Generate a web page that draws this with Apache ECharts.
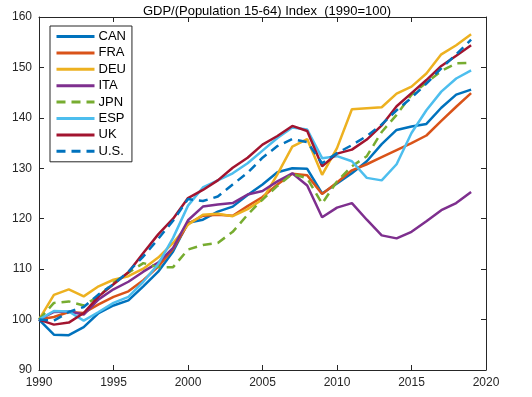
<!DOCTYPE html>
<html>
<head>
<meta charset="utf-8">
<script src="https://cdn.jsdelivr.net/npm/echarts@6/dist/echarts.min.js"></script>
<style>
  html, body { margin: 0; padding: 0; background: #fff; }
  #chart { width: 532px; height: 397px; }
</style>
</head>
<body>
<div id="chart"></div>
<script>
// Years 1990..2019
const years = [];
for (let y = 1990; y <= 2019; y++) years.push(y);

// Index values (1990 = 100)
const CAN = [100, 97.0, 96.9, 98.5, 101.3, 102.8, 103.8, 106.6, 109.5, 113.5, 119.2, 119.8, 121.4, 122.4, 124.7, 126.8, 129.2, 130.0, 129.9, 125.0, 127.0, 129.0, 131.4, 134.8, 137.6, 138.3, 138.8, 142.0, 144.6, 145.6];
const FRA = [100, 100.5, 101.5, 101.3, 103.0, 104.5, 105.6, 107.8, 110.5, 114.0, 119.0, 120.6, 120.8, 120.6, 122.5, 124.3, 126.8, 128.9, 128.6, 124.9, 127.2, 129.6, 130.8, 132.2, 133.6, 135.0, 136.5, 139.4, 142.2, 144.9];
const DEU = [100, 104.9, 106.0, 104.6, 106.6, 107.9, 108.6, 110.1, 112.3, 115.2, 118.8, 120.8, 121.0, 120.5, 121.9, 123.8, 128.8, 134.3, 135.8, 128.7, 134.0, 141.7, 141.9, 142.1, 144.8, 146.2, 148.8, 152.6, 154.4, 156.6];
const ITA = [100, 101.5, 101.6, 101.0, 104.0, 106.0, 107.5, 109.5, 111.3, 114.2, 119.7, 122.4, 122.8, 123.1, 124.8, 125.5, 127.4, 129.0, 126.6, 120.3, 122.2, 123.1, 119.8, 116.7, 116.1, 117.4, 119.5, 121.7, 123.1, 125.3];
const JPN = [100, 103.3, 103.6, 102.8, 104.6, 107.3, 109.3, 111.2, 110.4, 110.4, 113.9, 114.8, 115.2, 117.4, 120.8, 123.8, 126.5, 128.9, 128.0, 123.0, 127.4, 130.4, 132.4, 137.2, 140.6, 144.6, 147.0, 149.3, 150.8, 150.9];
const ESP = [100, 101.7, 101.6, 99.8, 101.5, 103.3, 104.5, 107.5, 111.0, 116.2, 122.6, 126.2, 127.6, 129.0, 131.0, 133.5, 136.0, 138.1, 137.7, 132.0, 132.4, 131.4, 128.1, 127.6, 130.8, 137.0, 141.5, 145.2, 147.8, 149.4];
const UK  = [100, 99.0, 99.4, 101.3, 104.6, 107.0, 109.4, 113.2, 116.9, 120.0, 124.1, 125.7, 127.6, 130.1, 132.1, 134.7, 136.4, 138.4, 137.4, 130.4, 132.9, 133.7, 135.7, 138.5, 142.3, 144.9, 147.5, 150.3, 152.3, 154.4];
const US  = [100, 99.8, 101.5, 102.5, 105.0, 107.0, 109.5, 112.5, 116.0, 119.6, 123.9, 123.5, 124.4, 126.8, 129.1, 132.1, 134.4, 135.8, 135.2, 131.0, 133.0, 134.6, 136.4, 138.7, 141.5, 144.0, 146.8, 149.8, 152.6, 155.5];

const seriesDefs = [
  { name: 'CAN',  data: CAN, color: '#0072BD', dashed: false },
  { name: 'FRA',  data: FRA, color: '#D95319', dashed: false },
  { name: 'DEU',  data: DEU, color: '#EDB120', dashed: false },
  { name: 'ITA',  data: ITA, color: '#7E2F8E', dashed: false },
  { name: 'JPN',  data: JPN, color: '#77AC30', dashed: true },
  { name: 'ESP',  data: ESP, color: '#4DBEEE', dashed: false },
  { name: 'UK',   data: UK,  color: '#A2142F', dashed: false },
  { name: 'U.S.', data: US,  color: '#0072BD', dashed: true }
];

const axisColor = '#262626';
const fontFamily = 'Liberation Sans, Arial, sans-serif';

const chart = echarts.init(document.getElementById('chart'), null, { renderer: 'canvas' });

const baseX = {
  type: 'value', min: 1990, max: 2020, interval: 5,
  axisLine: { show: true, onZero: false, lineStyle: { color: axisColor, width: 1 } },
  axisTick: { show: true, inside: true, length: 5, lineStyle: { color: axisColor } },
  splitLine: { show: false }
};
const baseY = {
  type: 'value', min: 90, max: 160, interval: 10,
  axisLine: { show: true, onZero: false, lineStyle: { color: axisColor, width: 1 } },
  axisTick: { show: true, inside: true, length: 5, lineStyle: { color: axisColor } },
  splitLine: { show: false }
};

const option = {
  animation: false,
  backgroundColor: '#fff',
  title: {
    text: 'GDP/(Population 15-64) Index  (1990=100)',
    left: 262, top: 0, textAlign: 'center',
    textStyle: { fontFamily: fontFamily, fontSize: 13, fontWeight: 'normal', color: '#000' }
  },
  grid: { left: 39, right: 46, top: 17, bottom: 27 },
  legend: {
    orient: 'vertical',
    left: 50, top: 26,
    padding: [4, 6, 4, 5],
    itemWidth: 38, itemHeight: 12, itemGap: 3.4,
    borderColor: axisColor, borderWidth: 1,
    backgroundColor: '#fff',
    itemStyle: { opacity: 0 },
    lineStyle: { width: 3 },
    textStyle: { fontFamily: fontFamily, fontSize: 13, color: '#000', padding: [0, 0, 0, -1] },
    data: seriesDefs.map(s => s.name)
  },
  xAxis: [
    Object.assign({}, baseX, {
      position: 'bottom',
      axisLabel: { show: true, color: axisColor, fontFamily: fontFamily, fontSize: 12, margin: 7,
        formatter: v => String(v) }
    }),
    Object.assign({}, baseX, { position: 'top', axisLabel: { show: false } })
  ],
  yAxis: [
    Object.assign({}, baseY, {
      position: 'left',
      axisLabel: { show: true, color: axisColor, fontFamily: fontFamily, fontSize: 12, margin: 7 }
    }),
    Object.assign({}, baseY, { position: 'right', axisLabel: { show: false } })
  ],
  series: seriesDefs.map(s => ({
    name: s.name,
    type: 'line',
    data: years.map((y, i) => [y, s.data[i]]),
    symbol: 'none',
    color: s.color,
    lineStyle: {
      color: s.color,
      width: 2.5,
      type: s.dashed ? [9, 6] : 'solid'
    }
  }))
};

chart.setOption(option);
</script>
</body>
</html>
